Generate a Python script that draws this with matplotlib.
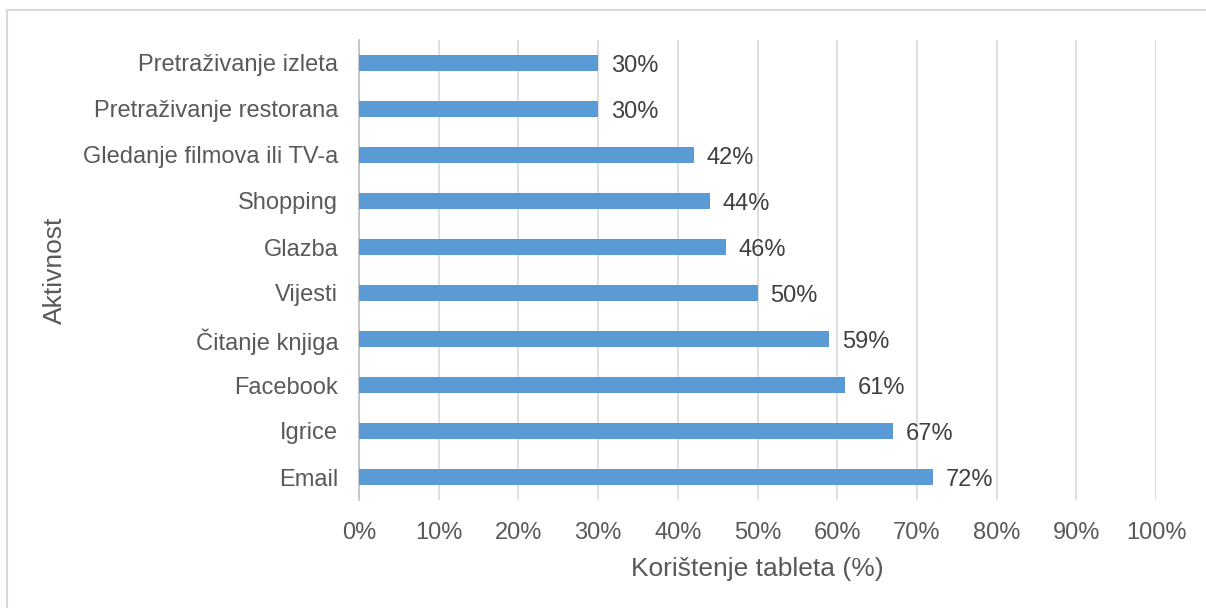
import numpy as np
import matplotlib.pyplot as plt
import matplotlib.patches as mpatches

plt.rcParams['font.family'] = ['Liberation Sans', 'DejaVu Sans']

activities = ["Email", "Igrice", "Facebook", "Čitanje knjiga", "Vijesti",
              "Glazba", "Shopping", "Gledanje filmova ili TV-a",
              "Pretraživanje restorana", "Pretraživanje izleta"]
usage = [72, 67, 61, 59, 50, 46, 44, 42, 30, 30]
xticks = [0, 10, 20, 30, 40, 50, 60, 70, 80, 90, 100]

text_col = "#595959"
bar_col = "#5B9BD5"
grid_col = "#D9D9D9"

fig = plt.figure(figsize=(12.06, 6.08), dpi=100)
ax = fig.add_axes([359 / 1206, 1 - 500 / 608, (1156 - 359) / 1206, 460 / 608])

# outer chart border
fig.patches.append(mpatches.Rectangle((7 / 1206, -0.1), 1.1, 1 - 10 / 608 + 0.1,
                                      transform=fig.transFigure, fill=False,
                                      edgecolor="#D9D9D9", linewidth=1.5))

y = np.arange(len(activities))
ax.barh(y, usage, height=0.36, color=bar_col, zorder=3)
for yi, v in zip(y, usage):
    ax.text(v + 1.6, yi - 0.06, f"{v}%", va="center", ha="left",
            fontsize=17, color="#404040")

ax.set_xlim(0, 100)
ax.set_ylim(-0.5, len(activities) - 0.5)
ax.set_xticks(xticks)
ax.set_xticklabels([f"{t}%" for t in xticks])
ax.set_yticks(y)
ax.set_yticklabels(activities)
ax.tick_params(axis="x", length=0, pad=16, labelsize=17, labelcolor=text_col)
ax.tick_params(axis="y", length=0, pad=15, labelsize=17, labelcolor=text_col)
ax.grid(axis="x", color=grid_col, linewidth=1.2, zorder=0)
for s in ["top", "right", "bottom"]:
    ax.spines[s].set_visible(False)
ax.spines["left"].set_color("#BFBFBF")
ax.spines["left"].set_linewidth(1.2)

ax.set_xlabel("Korištenje tableta (%)", fontsize=19, color=text_col, labelpad=9)
fig.text(55 / 1206, 1 - 270 / 608, "Aktivnost", rotation=90, ha="center",
         va="center", fontsize=19, color=text_col)

plt.savefig("out.png", dpi=100)
